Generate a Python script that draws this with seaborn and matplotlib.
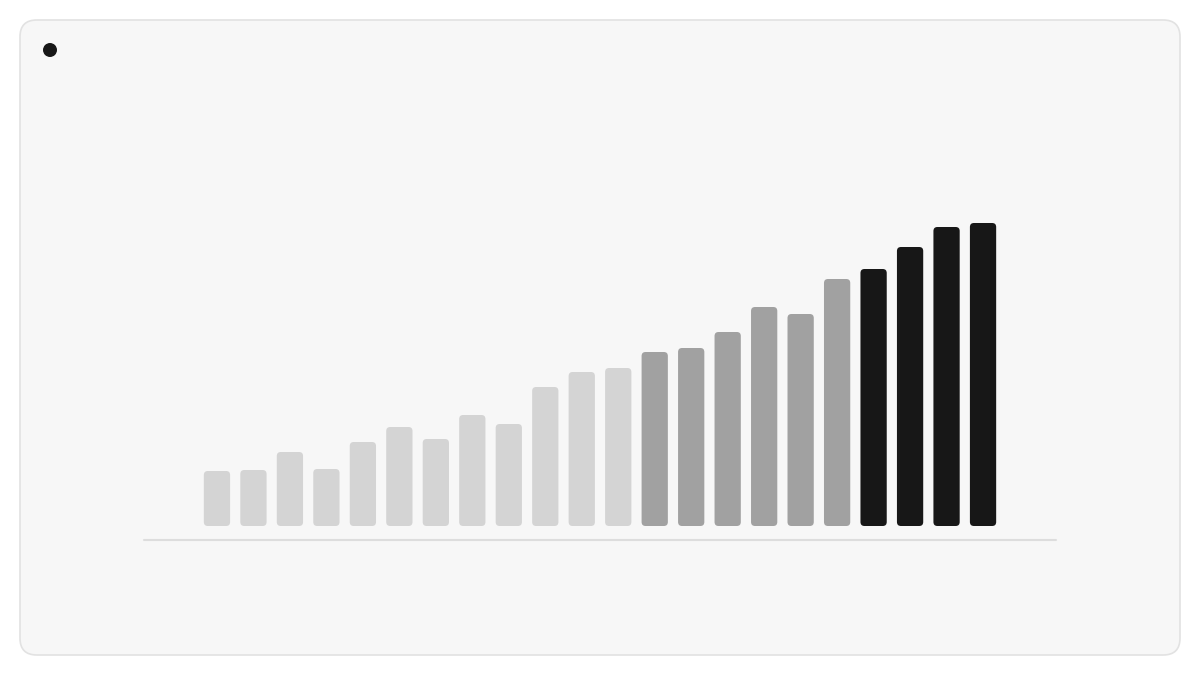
import numpy as np
import pandas as pd
import seaborn as sns
import matplotlib.pyplot as plt
from matplotlib.patches import FancyBboxPatch, Ellipse

# Bar values (arbitrary units)
positions = list(range(22))
values = [55, 56, 74, 57, 84, 99, 87, 111, 102, 139, 154, 158,
          174, 178, 194, 219, 212, 247, 257, 279, 299, 303]
groups = ["low"] * 12 + ["mid"] * 6 + ["high"] * 4
group_colors = {"low": "#d4d4d4", "mid": "#a1a1a1", "high": "#171717"}

df = pd.DataFrame({"pos": positions, "value": values, "group": groups})

sns.set_theme(style="white")
fig = plt.figure(figsize=(12, 6.75), dpi=100)
fig.patch.set_facecolor("white")

# card background + dot, behind the axes
card = FancyBboxPatch((20 / 1200, 20 / 675), 1160 / 1200, 635 / 675,
                      boxstyle="round,pad=0,rounding_size=0.014",
                      mutation_aspect=1200 / 675,
                      transform=fig.transFigure, facecolor="#f7f7f7",
                      edgecolor="#e2e2e2", linewidth=1.2, zorder=-10)
fig.patches.append(card)
fig.patches.append(Ellipse((50 / 1200, 1 - 50 / 675), 14 / 1200, 14 / 675,
                           transform=fig.transFigure, facecolor="#171717",
                           edgecolor="none", zorder=-5))

ax = fig.add_axes([144 / 1200, 135 / 675, 912 / 1200, 440 / 675])
ax.set_facecolor("none")
ax.patch.set_visible(False)
sns.barplot(data=df, x="pos", y="value", hue="group", palette=group_colors,
            dodge=False, legend=False, width=0.72, ax=ax, native_scale=True)

# swap plain bars for rounded ones
x_px = 912 / 25.0
r_x = 4 / x_px
for p in list(ax.patches):
    x, y = p.get_x(), p.get_y()
    w, h = p.get_width(), p.get_height()
    color = p.get_facecolor()
    p.remove()
    ax.add_patch(FancyBboxPatch((x, y), w, h,
                                boxstyle=f"round,pad=0,rounding_size={r_x}",
                                mutation_aspect=4 / r_x,
                                facecolor=color, edgecolor="none"))

ax.set_xlim(-2, 23)
ax.set_ylim(-14, 426)
ax.axhline(-14, color="#dddddd", linewidth=1.5, clip_on=False)
ax.set_xticks([])
ax.set_yticks([])
ax.set_xlabel("")
ax.set_ylabel("")
sns.despine(ax=ax, left=True, bottom=True)

fig.savefig("out.png", dpi=100, facecolor="white")
